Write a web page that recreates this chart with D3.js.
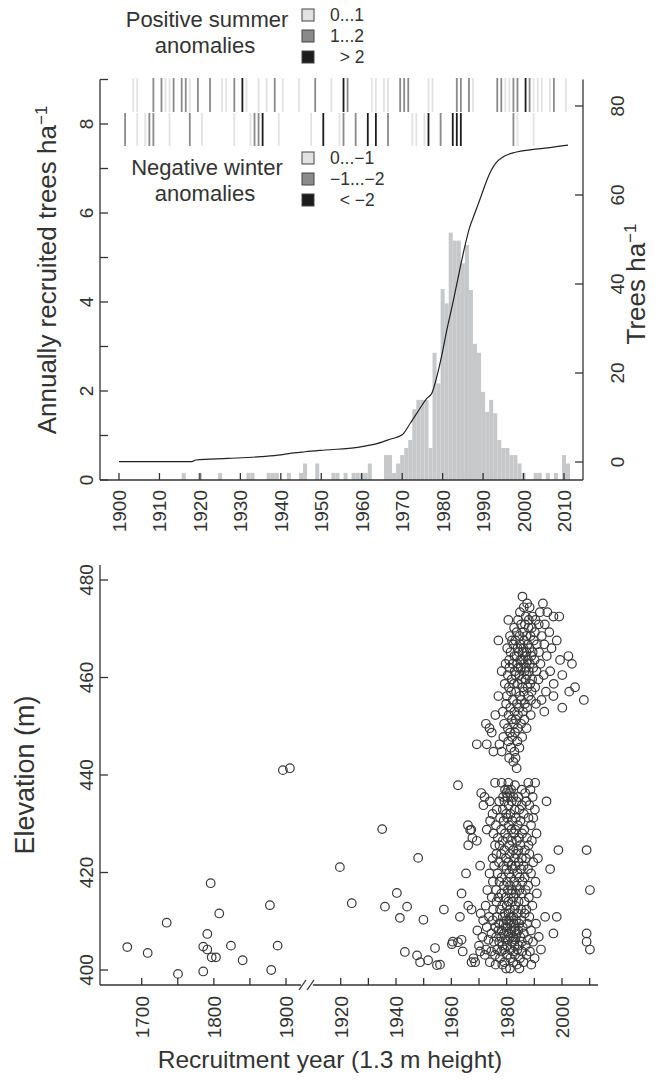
<!DOCTYPE html>
<html>
<head>
<meta charset="utf-8">
<script src="https://cdn.jsdelivr.net/npm/d3@7"></script>
<style>
  body { margin: 0; background: #fff; }
  text { font-family: "Liberation Sans", Arial, sans-serif; fill: #333; }
</style>
</head>
<body>
<script>
// ---- data ----
// annual recruitment (trees ha-1), years with no bar are zero
var histYears = [1916,1920,1925,1932,1933,1937,1938,1939,1942,1945,1946,1949,1953,1954,1956,1958,1959,1960,1961,1962,
  1966,1967,1968,1969,1970,1971,1972,1973,1974,1975,1976,1977,1978,1979,1980,1981,1982,1983,1984,1985,1986,1987,
  1988,1989,1990,1991,1992,1993,1994,1995,1996,1997,1998,1999,2000,2003,2004,2006,2008,2010,2011];
var histValues = [.16,.16,.16,.16,.16,.16,.16,.16,.16,.16,.37,.37,.16,.16,.16,.16,.16,.16,.16,.37,
  .56,.56,.16,.37,.56,.72,.9,1.59,1.8,1.8,1.8,.72,2.86,2.17,4.29,3.97,5.56,5.38,5.38,4.87,5.28,4.27,
  3.06,2.86,1.98,1.53,1.8,1.5,.9,.72,.72,.56,.56,.37,.16,.16,.16,.16,.16,.56,.37];

// cumulative trees ha-1 (right axis)
var cumYears = [1900,1918,1919,1927,1935,1940,1942,1946,1951,1959,1962,1964,1967,1970,1972,1974.5,1976,1977.3,
  1978.6,1979.8,1981,1982.7,1984.3,1985.5,1986.6,1988,1989,1990,1991,1992,1993,1995,1998,2002,2006,2011];
var cumValues = [0.1,0.1,0.45,0.8,1.2,1.6,1.9,2.3,2.7,3.3,3.8,4.2,5.1,6.1,8.7,12.2,14.2,15.4,
  19.3,24,29.5,36.5,43.5,48.5,52.5,56,58.5,61,63.5,65.5,67,68.6,69.6,70.2,70.6,71.2];

// climate anomaly classes (1 = light, 2 = mid, 3 = black)
var summerYears = [1903,1904,1908,1910,1911,1912,1913,1915,1916,1917,1919,1922,1925,1926,1928,1930,1931,1934,1936,
  1938,1940,1944,1948,1952,1955,1956,1962,1963,1965,1966,1969,1970,1971,1976,1977,1983,1984,1986,1987,1993,1994,
  1995,1996,1997,1998,2000,2001,2002,2003,2004,2006,2007,2010];
var summerClass = [1,1,2,2,1,1,2,2,2,1,2,2,1,1,2,3,1,1,1,
  2,1,1,2,1,3,2,1,1,1,1,2,2,2,1,1,2,2,2,1,2,2,
  1,1,2,2,3,2,1,1,1,1,2,1];
var winterYears = [1901,1904,1906,1907,1908,1912,1917,1920,1928,1932,1933,1934,1935,1939,1947,1950,1954,1955,1958,
  1961,1963,1966,1972,1973,1975,1976,1979,1982,1983,1984,1997,1998,2002];
var winterClass = [2,1,1,2,2,1,2,1,1,1,2,2,3,1,1,3,1,2,2,
  3,3,2,1,1,1,3,2,3,3,3,2,1,1];

var legendSummer = ["0...1", "1...2", "  > 2"];
var legendWinter = ["0...\u22121", "\u22121...\u22122", "  < \u22122"];

// recruitment year vs elevation, main clusters: rows of [elevation, [years]]
var elevRows = [
  [476.6,[1985.7]],
  [475.2,[1987.4,1993.1]],
  [474.4,[1988.3,1986.2]],
  [473.4,[1984.8,1992.0,1994.7]],
  [472.5,[1986.9,1989.3,1996.9,1999.0]],
  [471.8,[1980.6,1984.1,1988.0,1990.4]],
  [470.9,[1985.2,1986.6,1991.6,1993.8]],
  [470.2,[1982.7,1987.9,1989.1]],
  [469.3,[1983.6,1985.9,1990.2,1995.4]],
  [468.5,[1981.2,1984.7,1987.1,1988.6,1992.7]],
  [467.6,[1977.0,1981.9,1983.1,1986.3,1989.8,1998.1]],
  [466.8,[1982.4,1985.0,1987.6,1990.9,1993.6]],
  [466.0,[1980.2,1983.9,1986.0,1988.3,1996.2]],
  [465.2,[1981.4,1984.4,1985.7,1987.2,1989.4,1991.7]],
  [464.4,[1982.8,1983.5,1986.8,1988.9,1994.5,2002.3]],
  [463.6,[1980.9,1984.9,1985.5,1987.7,1990.1,1999.3]],
  [462.8,[1979.6,1982.1,1983.8,1986.2,1988.4,1992.2,2003.6]],
  [462.0,[1981.0,1984.2,1985.1,1987.0,1989.6]],
  [461.3,[1978.2,1982.9,1986.5,1988.0,1990.8,1995.7]],
  [460.5,[1980.4,1983.2,1984.6,1987.3,1993.4,2000.1]],
  [459.6,[1981.8,1985.4,1986.9,1989.2,1991.5]],
  [458.7,[1979.3,1982.6,1984.0,1988.5,1997.0]],
  [458.0,[1980.8,1985.8,1987.6,1990.3,2004.7]],
  [457.1,[1981.6,1983.4,1986.2,1989.0,1994.2,2002.6]],
  [456.2,[1977.0,1980.1,1984.8,1987.9,1996.9]],
  [455.4,[1982.2,1985.3,1988.8,1992.6,2007.9]],
  [454.6,[1979.8,1983.7,1986.6,1990.6]],
  [453.8,[1981.3,1984.5,1987.4,2000.1]],
  [453.0,[1978.6,1982.8,1985.9,1993.6]],
  [452.3,[1975.9,1980.7,1984.1,1988.7]],
  [451.4,[1981.9,1983.3,1986.4]],
  [450.5,[1972.5,1979.1,1982.6,1985.2]],
  [449.6,[1973.8,1980.4,1984.0,1987.2]],
  [448.7,[1974.6,1981.2,1983.0]],
  [447.8,[1978.8,1982.0,1985.6]],
  [446.9,[1980.6,1983.9]],
  [446.3,[1969.2,1972.8,1977.4]],
  [445.6,[1981.5,1984.6]],
  [444.8,[1975.2,1978.2,1982.8]],
  [443.5,[1980.9,1983.2]],
  [442.7,[1982.4]],
  [441.4,[1983.6]],
  [438.4,[1975.8,1978.2,1980.6,1987.8,1990.3]],
  [437.9,[1962.4,1983.0]],
  [437.0,[1979.4,1980.5,1981.6,1985.4,1988.6]],
  [436.3,[1970.8,1979.9,1981.1,1986.7]],
  [435.5,[1972.0,1978.7,1980.3,1982.4,1984.2,1989.4]],
  [434.6,[1973.9,1977.3,1979.2,1981.8,1983.6,1987.1,1994.4]],
  [433.8,[1971.6,1980.7,1985.5,1988.2]],
  [432.9,[1976.4,1978.6,1982.9,1984.6,1990.2]],
  [432.0,[1974.9,1979.8,1981.4,1986.2]],
  [431.2,[1977.6,1980.2,1983.3,1987.9,1989.6]],
  [430.6,[1974.0,1978.9,1982.1,1985.0]],
  [429.7,[1966.0,1976.1,1980.8,1984.0,1988.8]],
  [428.8,[1967.2,1972.8,1978.0,1981.7,1983.1,1986.4]],
  [428.0,[1975.2,1979.4,1982.6,1985.6,1990.8]],
  [427.1,[1967.6,1976.8,1980.3,1984.4,1987.3]],
  [426.5,[1969.2,1978.6,1981.9,1983.7,1989.1]],
  [425.6,[1966.1,1975.8,1977.4,1980.9,1985.0,1987.9]],
  [424.6,[1979.2,1982.4,1984.2,1986.6,1998.7,2008.9]],
  [423.8,[1976.3,1978.0,1981.1,1983.4,1988.2]],
  [422.9,[1974.9,1979.7,1982.9,1985.5,1987.0,1991.3]],
  [422.1,[1977.2,1980.6,1984.3,1989.6]],
  [421.4,[1970.4,1975.5,1978.9,1981.8,1983.2,1986.1]],
  [420.7,[1979.9,1982.2,1985.2,1987.7,1995.7]],
  [419.8,[1965.3,1973.8,1976.7,1980.8,1983.9,1988.8]],
  [419.0,[1978.2,1981.5,1984.7,1986.5]],
  [418.1,[1975.0,1977.4,1980.1,1982.7,1985.7,1990.4]],
  [417.3,[1979.0,1981.2,1983.6,1987.8]],
  [416.4,[1973.0,1976.2,1980.4,1982.0,1984.6,1986.9,2010.1]],
  [415.7,[1963.7,1978.1,1981.6,1983.3,1985.5,1990.9]],
  [414.9,[1974.6,1977.0,1979.6,1982.5,1988.0]],
  [414.0,[1976.3,1980.6,1981.9,1984.3,1986.4]],
  [413.2,[1966.1,1972.4,1978.4,1980.0,1983.1,1989.3]],
  [412.4,[1957.3,1967.3,1975.1,1977.6,1981.2,1982.8,1985.2,1987.1]],
  [411.6,[1970.6,1979.3,1980.7,1984.0,1986.5]],
  [410.9,[1963.1,1973.6,1976.5,1978.6,1981.6,1982.4,1988.2,1993.9,1998.1]],
  [410.2,[1971.5,1975.0,1979.9,1980.9,1983.4,1985.3]],
  [409.5,[1977.3,1978.9,1981.2,1982.6,1984.5,1987.4,1990.6]],
  [408.8,[1972.8,1975.9,1979.5,1980.3,1983.0,1985.8]],
  [408.1,[1969.4,1977.0,1978.2,1981.7,1982.9,1984.2,1988.8]],
  [407.5,[1974.5,1979.0,1980.6,1983.6,1986.2,1996.9,2008.9]],
  [406.8,[1971.2,1976.2,1978.0,1981.2,1982.4,1984.9,1991.6]],
  [406.2,[1963.7,1973.4,1979.6,1980.4,1983.1,1987.7]],
  [405.8,[1960.5,1975.4,1977.3,1981.9,1985.5,1989.5,2008.9]],
  [405.0,[1970.0,1978.5,1980.2,1982.8,1984.4,1986.9]],
  [404.2,[1972.6,1976.6,1979.1,1981.4,1983.9,1992.4,2010.1]],
  [403.8,[1964.1,1970.4,1974.4,1978.0,1982.4,1985.6,1988.4]],
  [403.1,[1972.1,1975.8,1980.1,1983.0,1987.2]],
  [402.4,[1968.0,1977.6,1981.3,1984.8,1990.1]],
  [401.6,[1967.3,1973.9,1979.2,1982.4,1986.1]],
  [401.1,[1955.9,1976.0,1978.4,1983.7,1988.9]],
  [400.3,[1979.8,1981.2,1984.6]]
];
// scattered trees outside the clusters: [year, elevation]
var looseTrees = [[1680,404.7],[1708.3,403.5],[1734.6,409.7],[1750.3,399.2],[1785.3,399.7],[1785.3,404.8],
  [1790.9,407.4],[1790.9,404.2],[1797,402.6],[1802.9,402.6],[1795.6,417.8],[1807.5,411.6],[1823.7,405],
  [1839.9,402],[1877.7,413.3],[1879.5,400],[1888.4,405],[1895.7,441],[1905.4,441.4],
  [1919.7,421.1],[1924,413.7],[1935,428.9],[1936,413],[1940.3,415.8],[1941.4,410.7],[1943.2,403.7],
  [1944,413],[1948,423],[1947.6,403],[1948.7,401.6],[1951.6,402],[1949.9,410.3],[1954.8,401],
  [1954.1,404.5],[1960.2,405.3],[1962.4,405.7],[1968.6,401.6],[1966.8,428.7]];

var topTicks = d3.range(1900, 2011, 10);
var oldTicks = [1700, 1750, 1800, 1850, 1900];
var oldLabels = [1700, 1800, 1900];
var newTicks = d3.range(1920, 2011, 10);
var newLabels = [1920, 1940, 1960, 1980, 2000];

// ---- drawing ----
var W = 660, H = 1082, ink = "#333";
var svg = d3.select("body").append("svg").attr("width", W).attr("height", H);

var x = d3.scaleLinear().domain([1900, 2010]).range([119, 564]);
var yL = d3.scaleLinear().domain([0, 9]).range([480, 79.5]);
var yR = d3.scaleLinear().domain([0, 80]).range([462, 106]);

function line(x1, y1, x2, y2) {
  svg.append("line").attr("x1", x1).attr("y1", y1).attr("x2", x2).attr("y2", y2)
    .attr("stroke", ink).attr("stroke-width", 1.3);
}
function vlabel(tx, ty, str, anchor, size) {
  return svg.append("text").attr("transform", "translate(" + tx + "," + ty + ") rotate(-90)")
    .attr("text-anchor", anchor).style("font-size", size + "px").text(str);
}

// histogram bars, one per year centred on the year
svg.append("g").selectAll("rect").data(histYears).enter().append("rect")
  .attr("x", function(d) { return x(d - 0.5); })
  .attr("width", function(d) { return x(d + 0.5) - x(d - 0.5); })
  .attr("y", function(d, i) { return yL(histValues[i]); })
  .attr("height", function(d, i) { return yL(0) - yL(histValues[i]); })
  .attr("fill", "#c7c8ca");

// cumulative line
svg.append("path")
  .datum(cumYears.map(function(d, i) { return [d, cumValues[i]]; }))
  .attr("d", d3.line().curve(d3.curveMonotoneX).x(function(d) { return x(d[0]); }).y(function(d) { return yR(d[1]); }))
  .attr("fill", "none").attr("stroke", "#222").attr("stroke-width", 1.2);

// anomaly stripes
var shade = {1: "#e2e2e2", 2: "#8a8a8a", 3: "#1c1c1c"};
function stripes(yrs, cls, y0, y1) {
  svg.append("g").selectAll("rect").data(yrs).enter().append("rect")
    .attr("x", function(d) { return x(d + 0.5) - 0.9; })
    .attr("width", 1.8)
    .attr("y", y0).attr("height", y1 - y0)
    .attr("fill", function(d, i) { return shade[cls[i]]; });
}
stripes(summerYears, summerClass, 78, 112);
stripes(winterYears, winterClass, 113, 146);

// top panel axes
line(100, yL(9), 100, 480);
line(100, 480, 583, 480);
line(583, yL(9), 583, 480);
d3.range(0, 10).forEach(function(v) { line(100, yL(v), 108, yL(v)); });
[0, 2, 4, 6, 8].forEach(function(v) { vlabel(93, yL(v), v, "middle", 19); });
yR.ticks(4).forEach(function(v) { line(583, yR(v), 575, yR(v)); vlabel(624, yR(v), v, "middle", 19); });
topTicks.forEach(function(v) { line(x(v), 480, x(v), 473); vlabel(x(v) + 7, 490, v, "end", 19); });

var tl = vlabel(56, 270, "Annually recruited trees ha", "middle", 26);
tl.append("tspan").attr("dy", "-0.55em").style("font-size", "17px").text("\u22121");
var tr = vlabel(645, 284, "Trees ha", "middle", 26);
tr.append("tspan").attr("dy", "-0.55em").style("font-size", "17px").text("\u22121");

// legends
function legend(title1, title2, ty, sqY, labels) {
  svg.append("text").attr("x", 207).attr("y", ty).attr("text-anchor", "middle").style("font-size", "22px").text(title1);
  svg.append("text").attr("x", 205).attr("y", ty + 26).attr("text-anchor", "middle").style("font-size", "22px").text(title2);
  labels.forEach(function(lab, i) {
    svg.append("rect").attr("x", 302).attr("y", sqY + i * 21).attr("width", 12).attr("height", 12)
      .attr("fill", shade[i + 1]).attr("stroke", "#444").attr("stroke-width", 1);
    svg.append("text").attr("x", 330).attr("y", sqY + i * 21 + 12).style("font-size", "17.5px")
      .style("white-space", "pre").attr("xml:space", "preserve").text(lab);
  });
}
legend("Positive summer", "anomalies", 27, 9, legendSummer);
legend("Negative winter", "anomalies", 175, 152, legendWinter);

// ---- bottom panel ----
var yE = d3.scaleLinear().domain([400, 480]).range([970, 580]);
var xOld = d3.scaleLinear().domain([1700, 1900]).range([141.7, 286]);
var xNew = d3.scaleLinear().domain([1920, 2000]).range([340.7, 562]);
function xb(yr) { return yr < 1910 ? xOld(yr) : xNew(yr); }

var pts = looseTrees.slice();
elevRows.forEach(function(r) { r[1].forEach(function(yr) { pts.push([yr, r[0]]); }); });

svg.append("g").selectAll("circle").data(pts).enter().append("circle")
  .attr("cx", function(d) { return xb(d[0]); })
  .attr("cy", function(d) { return yE(d[1]); })
  .attr("r", 4.3)
  .attr("fill", "none").attr("stroke", "#3a3a3a").attr("stroke-width", 1.2);

line(100, 565, 100, 985);
line(100, 985, 301, 985);
line(313, 985, 598, 985);
line(299, 990, 306, 980);
line(307, 990, 314, 980);
yE.ticks(4).forEach(function(v) { line(100, yE(v), 108, yE(v)); vlabel(93, yE(v), v, "middle", 19); });
oldTicks.forEach(function(v) { line(xOld(v), 985, xOld(v), 978); });
oldLabels.forEach(function(v) { vlabel(xOld(v) + 7, 996, v, "end", 19); });
newTicks.forEach(function(v) { line(xNew(v), 985, xNew(v), 978); });
newLabels.forEach(function(v) { vlabel(xNew(v) + 7, 996, v, "end", 19); });

svg.append("text").attr("x", 330).attr("y", 1068).attr("text-anchor", "middle")
  .style("font-size", "24.5px").text("Recruitment year (1.3 m height)");
vlabel(34, 775, "Elevation (m)", "middle", 27);
</script>
</body>
</html>
